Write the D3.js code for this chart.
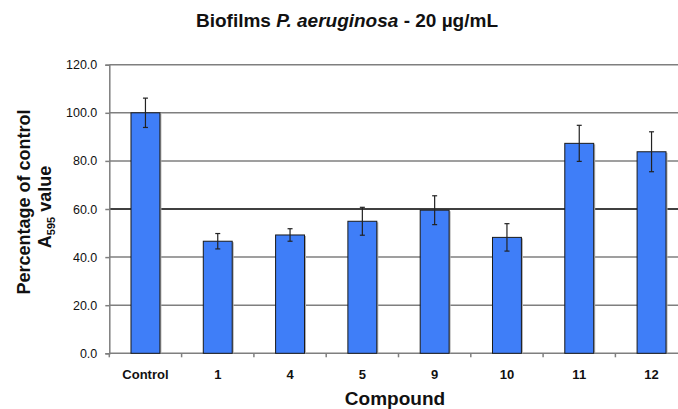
<!DOCTYPE html>
<html>
<head>
<meta charset="utf-8">
<script src="https://cdn.jsdelivr.net/npm/d3@7"></script>
<style>
	body { margin: 0; background: #fff; }
	text { font-family: "Liberation Sans", Arial, Helvetica, sans-serif; }
</style>
</head>
<body>
<div id="chart"></div>
<script>

var compounds = ["Control", "1", "4", "5", "9", "10", "11", "12"]
var values = [100.0, 46.6, 49.2, 54.9, 59.5, 48.2, 87.3, 83.8]
var errors = [6.1, 3.2, 2.6, 5.8, 6.0, 5.7, 7.5, 8.3]
var yTicks = [0, 20, 40, 60, 80, 100, 120]

var width = 678
var height = 409
var margin = {top: 64.7, left: 109.3}
var plotWidth = 578.4
var plotHeight = 288.6

var svg = d3.select("#chart").append("svg")
	.attr("width", width)
	.attr("height", height)

var features = svg.append("g").attr("transform", "translate(" + margin.left + "," + margin.top + ")")

var x = d3.scaleBand().domain(compounds).range([0, plotWidth]).paddingInner(0.6).paddingOuter(0.3)
var y = d3.scaleLinear().domain([0, 120]).range([plotHeight, 0])

// gridlines (60 is drawn black in the original)
var gridTicks = yTicks.filter(function(d) { return d > 0 })

features.selectAll("line.grid")
	.data(gridTicks)
	.enter().append("line")
	.attr("class", "grid")
	.attr("x1", 0)
	.attr("x2", plotWidth)
	.attr("y1", function(d) { return y(d) })
	.attr("y2", function(d) { return y(d) })
	.style("stroke", function(d) { return d == 60 ? "#000" : "#7f7f7f" })
	.style("stroke-width", "1.5px")

// y axis
var yAxis = d3.axisLeft(y).tickValues(yTicks).tickFormat(d3.format(".1f")).tickSize(4).tickPadding(8)

var gy = features.append("g").call(yAxis)
gy.select(".domain").attr("stroke", "#7f7f7f").attr("stroke-width", 1.5)
gy.selectAll(".tick line").attr("stroke", "#7f7f7f").attr("stroke-width", 1.5)
gy.selectAll(".tick text")
	.style("font-size", "12.5px")
	.style("fill", "#111")

// x axis: ticks on the category boundaries
var boundaries = d3.range(compounds.length + 1).map(function(i) { return i * plotWidth / compounds.length })

features.append("line")
	.attr("x1", 0).attr("x2", plotWidth)
	.attr("y1", plotHeight).attr("y2", plotHeight)
	.attr("stroke", "#7f7f7f").attr("stroke-width", 1.5)

features.selectAll(".xtick")
	.data(boundaries)
	.enter().append("line")
	.attr("class", "xtick")
	.attr("x1", function(d) { return d }).attr("x2", function(d) { return d })
	.attr("y1", plotHeight).attr("y2", plotHeight + 4)
	.attr("stroke", "#7f7f7f").attr("stroke-width", 1.5)

features.selectAll(".xlabel")
	.data(compounds)
	.enter().append("text")
	.attr("class", "xlabel")
	.attr("x", function(d) { return x(d) + x.bandwidth() / 2 })
	.attr("y", plotHeight + 26)
	.attr("text-anchor", "middle")
	.style("font-size", "13px")
	.style("font-weight", "bold")
	.style("fill", "#111")
	.text(function(d) { return d })

// bar shadows
features.selectAll(".shadow")
	.data(values)
	.enter().append("rect")
	.attr("class", "shadow")
	.attr("x", function(d, i) { return x(compounds[i]) + 1.5 })
	.attr("y", function(d) { return y(d) + 1 })
	.attr("width", x.bandwidth())
	.attr("height", function(d) { return y(0) - y(d) - 1 })
	.attr("fill", "#b0b0b0")

// bars
features.selectAll(".bar")
	.data(values)
	.enter().append("rect")
	.attr("class", "bar")
	.attr("x", function(d, i) { return x(compounds[i]) })
	.attr("y", function(d) { return y(d) })
	.attr("width", x.bandwidth())
	.attr("height", function(d) { return y(0) - y(d) })
	.attr("fill", "#3f7ef8")
	.attr("stroke", "#1a1a1a")
	.attr("stroke-width", 1)

// error bars
var err = features.selectAll(".err")
	.data(values)
	.enter().append("g")
	.attr("class", "err")
	.attr("transform", function(d, i) { return "translate(" + (x(compounds[i]) + x.bandwidth() / 2) + ",0)" })

err.append("line")
	.attr("x1", 0).attr("x2", 0)
	.attr("y1", function(d, i) { return y(d + errors[i]) })
	.attr("y2", function(d, i) { return y(d - errors[i]) })
	.attr("stroke", "#222").attr("stroke-width", 1.2)

err.append("line")
	.attr("x1", -2.5).attr("x2", 2.5)
	.attr("y1", function(d, i) { return y(d + errors[i]) })
	.attr("y2", function(d, i) { return y(d + errors[i]) })
	.attr("stroke", "#222").attr("stroke-width", 1.2)

err.append("line")
	.attr("x1", -2.5).attr("x2", 2.5)
	.attr("y1", function(d, i) { return y(d - errors[i]) })
	.attr("y2", function(d, i) { return y(d - errors[i]) })
	.attr("stroke", "#222").attr("stroke-width", 1.2)

// title
var title = svg.append("text")
	.attr("x", 347)
	.attr("y", 27)
	.attr("text-anchor", "middle")
	.style("font-size", "19px")
	.style("font-weight", "bold")
	.style("fill", "#111")

title.append("tspan").text("Biofilms ")
title.append("tspan").style("font-style", "italic").text("P. aeruginosa")
title.append("tspan").text(" - 20 µg/mL")

// x axis title
svg.append("text")
	.attr("x", 395)
	.attr("y", 405)
	.attr("text-anchor", "middle")
	.style("font-size", "19px")
	.style("font-weight", "bold")
	.style("fill", "#111")
	.text("Compound")

// y axis title, two lines
var yTitle = svg.append("text")
	.attr("transform", "translate(30,202) rotate(-90)")
	.attr("text-anchor", "middle")
	.style("font-size", "18px")
	.style("font-weight", "bold")
	.style("fill", "#111")

yTitle.append("tspan").text("Percentage of control")

var line2 = svg.append("text")
	.attr("transform", "translate(51,207) rotate(-90)")
	.attr("text-anchor", "middle")
	.style("font-size", "18px")
	.style("font-weight", "bold")
	.style("fill", "#111")

line2.append("tspan").text("A")
line2.append("tspan").attr("dy", 4).style("font-size", "11px").text("595")
line2.append("tspan").attr("dy", -4).text(" value")

</script>
</body>
</html>
